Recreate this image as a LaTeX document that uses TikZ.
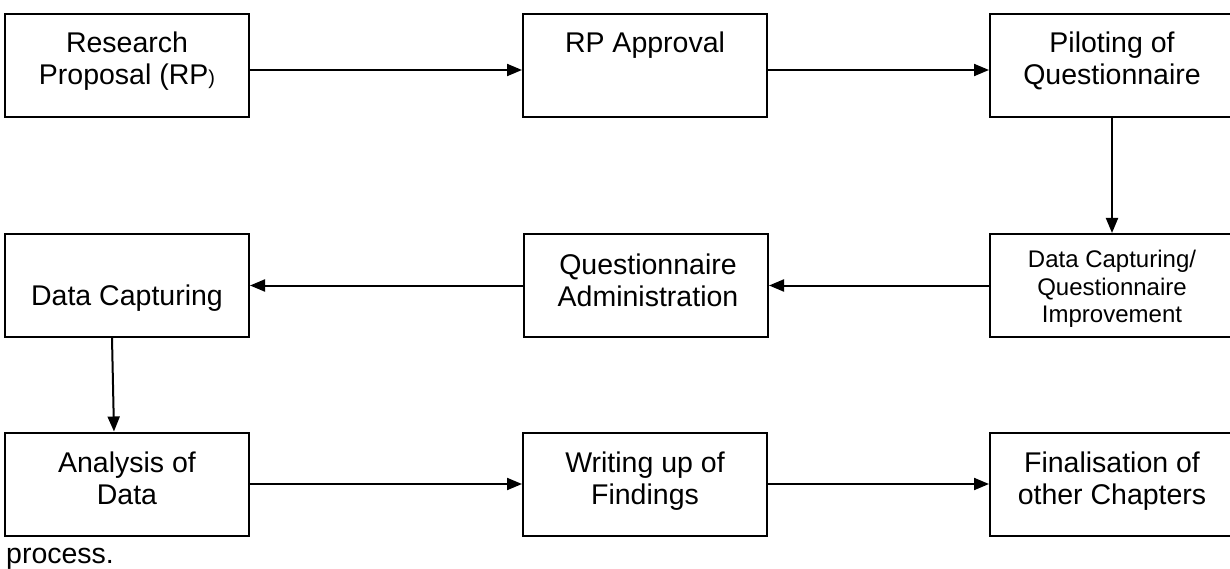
\documentclass[tikz,border=0pt]{standalone}
\usepackage{fontspec}
\setmainfont{Liberation Sans}
\usetikzlibrary{arrows.meta}
\begin{document}
\begin{tikzpicture}[x=1pt,y=-1pt,
  box/.style={draw=black, line width=2pt, minimum width=244pt, minimum height=103pt, inner sep=0pt},
  lbl/.style={anchor=base, inner sep=0pt, font=\fontsize{28.5}{32}\selectfont},
  small/.style={anchor=base, inner sep=0pt, font=\fontsize{24}{27}\selectfont},
  conn/.style={line width=2pt, -{Triangle[length=15pt,width=12pt]}}]
\useasboundingbox (0,0) rectangle (1230,569);
\clip (0,0) rectangle (1230,569);
% boxes
\node[box] (b1) at (127,65.5) {};
\node[box] (b2) at (645,65.5) {};
\node[box] (b3) at (1112,65.5) {};
\node[box] (b4) at (127,285.5) {};
\node[box] (b5) at (646,285.5) {};
\node[box] (b6) at (1112,285.5) {};
\node[box] (b7) at (127,484) {};
\node[box] (b8) at (645,484) {};
\node[box] (b9) at (1112,484) {};
% labels
\node[lbl] (t1a) at (127,53) {Research};
\node[lbl] (t1b) at (127,85) {Proposal (RP{\fontsize{20}{24}\selectfont)}};
\node[lbl] (t2a) at (645,53) {RP Approval};
\node[lbl] (t3a) at (1112,53) {Piloting of};
\node[lbl] (t3b) at (1112,85) {Questionnaire};
\node[lbl] (t4a) at (127,305) {Data Capturing};
\node[lbl] (t5a) at (648,274) {Questionnaire};
\node[lbl] (t5b) at (648,306) {Administration};
\node[small] (t6a) at (1112,267) {Data Capturing/};
\node[small] (t6b) at (1112,295) {Questionnaire};
\node[small] (t6c) at (1112,322) {Improvement};
\node[lbl] (t7a) at (127,472) {Analysis of};
\node[lbl] (t7b) at (127,504) {Data};
\node[lbl] (t8a) at (645,472) {Writing up of};
\node[lbl] (t8b) at (645,504) {Findings};
\node[lbl] (t9a) at (1112,472) {Finalisation of};
\node[lbl] (t9b) at (1112,504) {other Chapters};
\node[lbl, anchor=base west] (cap) at (6,563) {process.};
% connectors
\draw[conn] (b1.east |- 0,70) -- (b2.west |- 0,70);
\draw[conn] (b2.east |- 0,70) -- (b3.west |- 0,70);
\draw[conn] (b3.south) -- (b6.north);
\draw[conn] (b6.west) -- (b5.east);
\draw[conn] (b5.west) -- (b4.east);
\draw[conn] (b4.south -| 112,0) -- (b7.north -| 114,0);
\draw[conn] (b7.east) -- (b8.west);
\draw[conn] (b8.east) -- (b9.west);
\end{tikzpicture}
\end{document}
